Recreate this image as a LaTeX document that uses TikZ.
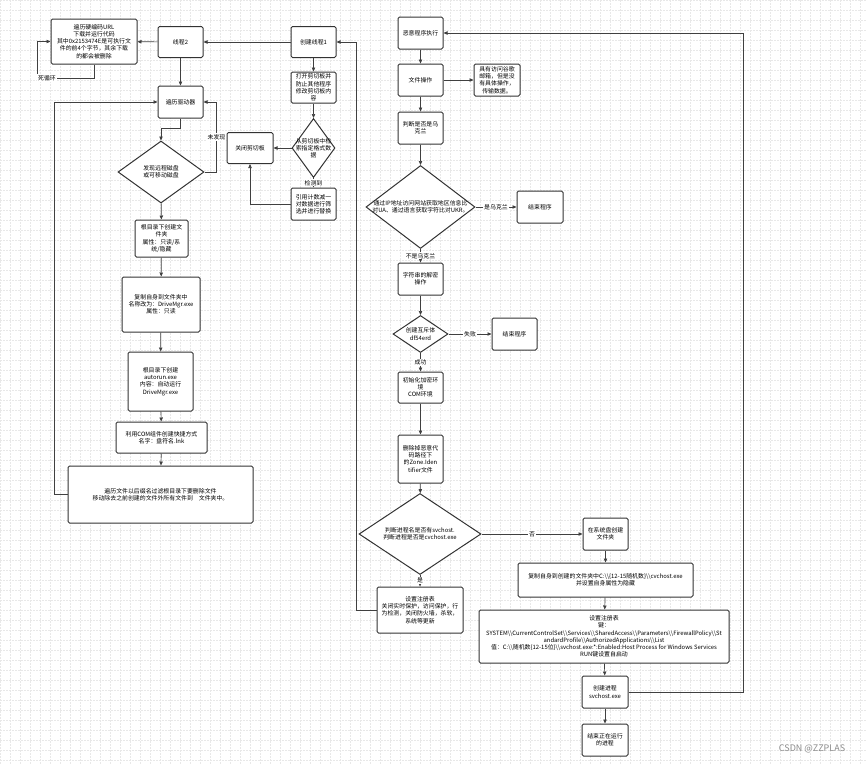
\documentclass[tikz,border=0pt]{standalone}
\usepackage{fontspec}
\setmainfont{Noto Sans CJK SC}
\usetikzlibrary{positioning, arrows.meta, shapes.geometric}

\newcommand{\dbs}{\textbackslash\textbackslash}

\begin{document}
\begin{tikzpicture}[
    x=1pt, y=-1pt,
    >={Triangle[length=4pt, width=3.4pt]},
    every node/.style={font=\fontsize{5.9pt}{7.2pt}\selectfont},
    box/.style={draw=black!80, line width=1pt, rounded corners=1.5pt, fill=white, align=center, inner sep=1pt},
    decision/.style={diamond, draw=black!80, line width=1pt, fill=white, inner sep=0pt},
    dtext/.style={align=center, inner sep=0pt},
    flow/.style={draw=black!75, line width=0.7pt, ->},
    tag/.style={fill=white, inner sep=1pt},
    gridline/.style={black!9, line width=0.4pt, dash pattern=on 2pt off 1pt}
]

% Background grid
\useasboundingbox (0,0) rectangle (866,764);
\fill[white] (0,0) rectangle (866,764);
\foreach \gx in {0,10,...,860} \draw[gridline] (\gx,0) -- (\gx,764);
\foreach \gy in {0,10,...,760} \draw[gridline] (0,\gy) -- (866,\gy);

% Thread 2 and drive infection (left column)
\node[box, minimum width=86pt, minimum height=45pt] (urls) at (94,41.5) {遍历硬编码URL\\下载并运行代码\\其中0x2153474E是可执行文\\件的前4个字节，其余下载\\的都会被删除};
\node[box, minimum width=45pt, minimum height=31pt] (thread2) at (180.5,42) {线程2};
\node[box, minimum width=45pt, minimum height=32pt] (drive) at (180.5,102) {遍历驱动器};
\node[decision, minimum width=86pt, minimum height=62pt] (disk) at (161,172) {};
\node[dtext] (disktxt) at (disk) {发现远程磁盘\\或可移动磁盘};
\node[box, minimum width=53pt, minimum height=37pt] (folder) at (161.5,238.5) {根目录下创建文\\件夹\\属性：只读/系\\统/隐藏};
\node[box, minimum width=78pt, minimum height=55pt] (copyself) at (161,304.5) {复制自身到文件夹中\\名称改为：DriveMgr.exe\\属性：只读};
\node[box, minimum width=65pt, minimum height=59pt] (autorun) at (160.5,381.5) {根目录下创建\\autorun.exe\\内容：自动运行\\DriveMgr.exe};
\node[box, minimum width=91pt, minimum height=31pt] (lnk) at (161.5,437.5) {利用COM组件创建快捷方式\\名字：盘符名.lnk};
\node[box, minimum width=185pt, minimum height=57pt] (walk) at (160.5,494.5) {遍历文件以后缀名过滤根目录下要删除文件\\移动除去之前创建的文件外所有文件到　文件夹中。};

% Thread 1 and clipboard
\node[box, minimum width=45pt, minimum height=31pt] (thread1) at (313.5,42) {创建线程1};
\node[box, minimum width=45pt, minimum height=31pt] (clipopen) at (313.5,87.5) {打开剪切板并\\防止其他程序\\修改剪切板内\\容};
\node[decision, minimum width=43pt, minimum height=59pt] (clipd) at (313.5,148) {};
\node[dtext] (cliptxt) at (clipd) {从剪切板中检\\索指定格式数\\据};
\node[box, minimum width=46pt, minimum height=31pt] (clipclose) at (250,148) {关闭剪切板};
\node[box, minimum width=45pt, minimum height=32pt] (swap) at (313.5,204) {引用计数减一\\对数据进行筛\\选并进行替换};

% Main flow (right column)
\node[box, minimum width=45pt, minimum height=32pt] (mal) at (420.5,33) {恶意程序执行};
\node[box, minimum width=45pt, minimum height=32pt] (fileop) at (420.5,80) {文件操作};
\node[box, minimum width=46pt, minimum height=32pt] (gmail) at (497,80) {具有访问谷歌\\邮箱，但是没\\有具体操作，\\传输数据。};
\node[box, minimum width=45pt, minimum height=32pt] (ukr) at (420.5,128) {判断是否是乌\\克兰};
\node[decision, minimum width=109pt, minimum height=83pt] (ipd) at (420.5,207) {};
\node[dtext] (iptxt) at (ipd) {通过IP地址访问网站获取地区信息比\\对UA、通过语言获取字符比对UKR。};
\node[box, minimum width=46pt, minimum height=32pt] (end1) at (540,207) {结束程序};
\node[box, minimum width=45pt, minimum height=32pt] (decrypt) at (420.5,279) {字符串的解密\\操作};
\node[decision, minimum width=55pt, minimum height=37pt] (mutex) at (420.5,334) {};
\node[dtext] (mutextxt) at (mutex) {创建互斥体\\df54erd};
\node[box, minimum width=45pt, minimum height=32pt] (end2) at (514.5,334) {结束程序};
\node[box, minimum width=45pt, minimum height=31pt] (initenv) at (420.5,387.5) {初始化加密环\\境\\COM环境};
\node[box, minimum width=45pt, minimum height=48pt] (zone) at (420.5,459) {删除掉恶意代\\码路径下\\的Zone.Iden\\tifier文件};
\node[decision, minimum width=122pt, minimum height=81pt] (procd) at (420,534) {};
\node[dtext] (proctxt) at (procd) {判断进程名是否有svchost.\\判断进程是否是cvchost.exe};
\node[box, minimum width=86pt, minimum height=46pt] (reg1) at (420,610) {设置注册表\\关闭实时保护，访问保护，行\\为检测，关闭防火墙，杀软，\\系统等更新};
\node[box, minimum width=45pt, minimum height=32pt] (mkdir) at (605.5,534) {在系统盘创建\\文件夹};
\node[box, minimum width=175pt, minimum height=34pt] (copy2) at (605.5,580) {复制自身到创建的文件夹中C:\dbs\{12-15随机数\}\dbs cvchost.exe\\并设置自身属性为隐藏};
\node[box, minimum width=250pt, minimum height=53pt] (reg2) at (604,636.5) {设置注册表\\键：\\SYSTEM\dbs CurrentControlSet\dbs Services\dbs SharedAccess\dbs Parameters\dbs FirewallPolicy\dbs St\\andardProfile\dbs AuthorizedApplications\dbs List\\值：C:\dbs 随机数\{12-15位\}\dbs svchost.exe:*:Enabled:Host Process for Windows Services\\RUN键设置自启动};
\node[box, minimum width=46pt, minimum height=32pt] (newproc) at (605,692) {创建进程\\svchost.exe};
\node[box, minimum width=46pt, minimum height=32pt] (killproc) at (605,740) {结束正在运行\\的进程};

\node[text=black!45, font=\fontsize{9pt}{10pt}\selectfont] (mark) at (812,749) {CSDN @ZZPLAS};

% Connectors, left part
\draw[flow] (thread1) -- (thread2);
\draw[flow] (thread2) -- (urls);
\draw[flow] (urls.south) |- (37,78) |- (urls.west);
\node[tag] (looptag) at (47,78) {死循环};
\draw[flow] (thread2) -- (drive);
\draw[flow] (drive.south) -- ++(0,10) -| (disk.north);
\draw[flow] (disk.east) -- ++(12,0) |- node[tag, pos=0.25] {未发现} (drive.east);
\draw[flow] (disk) -- (folder);
\draw[flow] (folder) -- (copyself);
\draw[flow] (copyself) -- (autorun);
\draw[flow] (autorun) -- (lnk);
\draw[flow] (lnk) -- (walk);
\draw[flow] (walk.west) -- ++(-13,0) |- (drive.west);
\draw[flow] (thread1) -- (clipopen);
\draw[flow] (clipopen) -- (clipd);
\draw[flow] (clipd) -- (clipclose);
\draw[flow] (clipd) -- node[tag] {检测到} (swap);
\draw[flow] (swap.west) -| (clipclose.south);

% Connectors, right part
\draw[flow] (mal) -- (fileop);
\draw[flow] (fileop) -- (gmail);
\draw[flow] (fileop) -- (ukr);
\draw[flow] (ukr) -- (ipd);
\draw[flow] (ipd) -- node[tag] {是乌克兰} (end1);
\draw[flow] (ipd) -- node[tag] {不是乌克兰} (decrypt);
\draw[flow] (decrypt) -- (mutex);
\draw[flow] (mutex) -- node[tag] {失败} (end2);
\draw[flow] (mutex) -- node[tag] {成功} (initenv);
\draw[flow] (initenv) -- (zone);
\draw[flow] (zone) -- (procd);
\draw[flow] (procd) -- node[tag] {否} (mkdir);
\draw[flow] (procd) -- node[tag] {是} (reg1);
\draw[flow] (reg1.west) -- ++(-20,0) |- (thread1.east);
\draw[flow] (mkdir) -- (copy2);
\draw[flow] (copy2) -- (reg2);
\draw[flow] (reg2) -- (newproc);
\draw[flow] (newproc) -- (killproc);
\draw[flow] (newproc.east) -- ++(115,0) |- (mal.east);

\end{tikzpicture}
\end{document}
